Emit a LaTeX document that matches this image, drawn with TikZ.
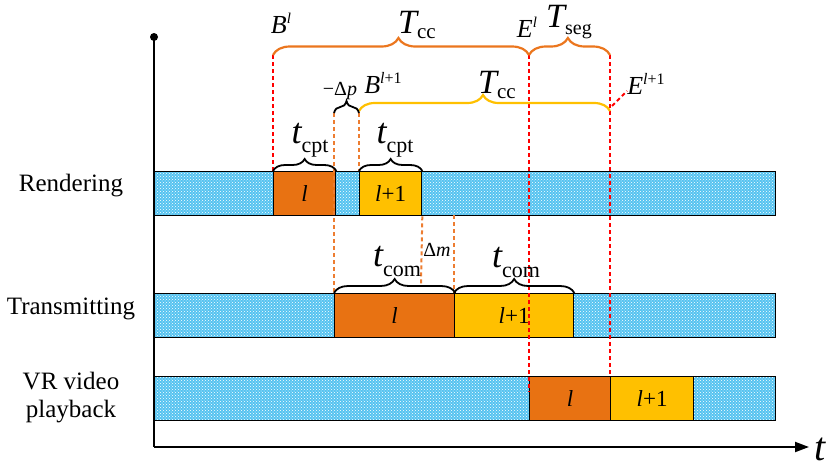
\documentclass[tikz,border=0pt]{standalone}
\usepackage{fontspec}
\setmainfont{Liberation Serif}
\usetikzlibrary{arrows.meta,decorations.pathreplacing,patterns}
\definecolor{barblue}{RGB}{85,195,240}
\definecolor{boxorange}{RGB}{232,114,18}
\definecolor{boxyellow}{RGB}{255,192,0}
\definecolor{braceorange}{RGB}{235,118,30}
\definecolor{dashorange}{RGB}{237,125,49}
\newcommand{\fs}[1]{\fontsize{#1}{#1}\selectfont}
% symbol with subscript: size, symbol, subsize, sub, lowering
\newcommand{\symsub}[5]{{\fs{#1}\itshape #2}\raisebox{-#5pt}{\fs{#3}#4}}
% symbol with superscript
\newcommand{\symsup}[5]{{\fs{#1}\itshape #2}\raisebox{#5pt}{\fs{#3}#4}}
\begin{document}
\begin{tikzpicture}[x=1pt,y=-1pt,
  lbl/.style={inner sep=0pt, font=\fs{25}, align=center},
  txt/.style={inner sep=0pt},
  bar/.style={draw, line width=1.3pt, preaction={fill=barblue}, pattern=crosshatch dots, pattern color=white, minimum height=44pt, inner sep=0pt, anchor=north west},
  box/.style={draw, line width=1.3pt, minimum height=44pt, inner sep=0pt, anchor=north west, font=\fs{23}},
  brc/.style={decorate, decoration={brace, amplitude=#1}, line width=1.8pt},
  brc/.default=12,
  reddash/.style={red, line width=2pt, dash pattern=on 4pt off 3pt},
  orgdash/.style={dashorange, line width=2pt, dash pattern=on 4pt off 3pt}
]
\useasboundingbox (0,0) rectangle (830,469);

% rows
\node[bar, minimum width=621pt] (rbar) at (154,171) {};
\node[bar, minimum width=621pt] (tbar) at (154,293) {};
\node[bar, minimum width=621pt] (pbar) at (154,376) {};

\node[box, fill=boxorange, minimum width=62pt] (rl) at (273,171) {\textit{l}};
\node[box, fill=boxyellow, minimum width=62pt] (rl1) at (359,171) {\textit{l}+1};
\node[box, fill=boxorange, minimum width=120pt] (tl) at (334,293) {\textit{l}};
\node[box, fill=boxyellow, minimum width=119pt] (tl1) at (454,293) {\textit{l}+1};
\node[box, fill=boxorange, minimum width=81pt] (pl) at (529,376) {\textit{l}};
\node[box, fill=boxyellow, minimum width=83pt] (pl1) at (610,376) {\textit{l}+1};

% row labels
\node[lbl] (lrend) at (71,186) {Rendering};
\node[lbl] (ltrans) at (71,309) {Transmitting};
\node[lbl, align=center] (lplay) at (71,398) {VR video\\[3pt]playback};

% axes
\coordinate (ytop) at (154,37);
\coordinate (orig) at (154,447);
\coordinate (xend) at (809,447);
\draw[line width=2pt] (ytop) -- (orig);
\draw[line width=2pt, -{Triangle[length=14pt,width=10pt]}] (orig) -- (xend);
\node[circle, fill, inner sep=0pt, minimum size=8pt] (dot) at (ytop) {};
\node[txt, font=\fs{40}\itshape] (tlab) at (820,449) {t};

% key coordinates
\coordinate (Bl) at (273,55);
\coordinate (El) at (529,55);
\coordinate (Eseg) at (610,55);
\coordinate (Bl1) at (359,111);
\coordinate (El1) at (610,111);
\coordinate (dpA) at (334,113);
\coordinate (dpB) at (359,113);
\coordinate (Elbot) at (529,392);
\coordinate (ptrA) at (612,106);
\coordinate (ptrB) at (627,91);
\coordinate (dmA) at (421,285);
\coordinate (dmB) at (454,215);

% dashed guides
\draw[reddash] (Bl) -- (rl.north west);
\draw[reddash] (El) -- (Elbot);
\draw[reddash] (Eseg) -- (pl1.north west);
\draw[reddash] (ptrA) -- (ptrB);
\draw[orgdash] (dpA) -- (tl.north west);
\draw[orgdash] (dpB) -- (rl1.north west);
\draw[orgdash] (rl1.south east) -- (dmA);
\draw[orgdash] (dmB) -- (tl1.north west);

% braces
\draw[brc=17, braceorange, line width=2.2pt, decoration={aspect=0.49}] (Bl) -- (El);
\draw[brc=17, braceorange, line width=2.2pt, decoration={aspect=0.48}] (El) -- (Eseg);
\draw[brc=16, boxyellow, line width=2.2pt, decoration={aspect=0.494}] (Bl1) -- (El1);
\draw[brc=12] (dpA) -- (dpB);
\draw[brc=12] (rl.north west) -- (rl.north east);
\draw[brc=12] (rl1.north west) -- (rl1.north east);
\draw[brc=14] (tl.north west) -- (tl.north east);
\draw[brc=14] (tl1.north west) -- (tl1.north east);

% labels
\node[txt] (tBl) at (281,23) {\symsup{26}{B}{15}{\textit{l}}{10}};
\node[txt] (tTcc1) at (417,25) {\symsub{34}{T}{21}{cc}{5}};
\node[txt] (tEl) at (527,27) {\symsup{26}{E}{15}{\textit{l}}{10}};
\node[txt] (tTseg) at (569,22) {\symsub{34}{T}{20}{seg}{7}};
\node[txt] (tdp) at (340,91) {\fs{20}−Δ\textit{p}};
\node[txt] (tBl1) at (383,83) {\symsup{26}{B}{16}{\textit{l}+1}{10}};
\node[txt] (tTcc2) at (497,85) {\symsub{34}{T}{21}{cc}{5}};
\node[txt] (tEl1) at (646,84) {\symsup{26}{E}{16}{\textit{l}+1}{10}};
\node[txt] (tcpt1) at (310,140) {\symsub{36}{t}{22}{cpt}{9}};
\node[txt] (tcpt2) at (395,140) {\symsub{36}{t}{22}{cpt}{9}};
\node[txt] (tdm) at (437,250) {\fs{20}Δ\textit{m}};
\node[txt] (tcom1) at (397,261) {\symsub{36}{t}{22}{com}{10}};
\node[txt] (tcom2) at (516,262) {\symsub{36}{t}{22}{com}{10}};
\end{tikzpicture}
\end{document}
